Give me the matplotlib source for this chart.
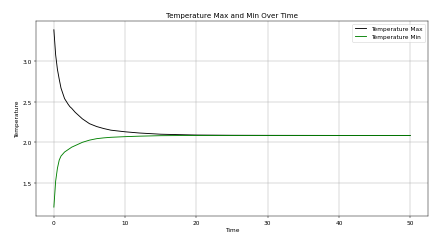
import matplotlib
matplotlib.use("Agg")
import matplotlib.pyplot as plt

time = [0, 0.25, 0.5, 0.75, 1, 1.5, 2, 2.25, 2.5, 3, 4, 5, 6, 7, 8, 10, 12, 15, 20, 25, 30, 40, 50]
temp_max = [3.39, 3.08, 2.90, 2.78, 2.67, 2.54, 2.47, 2.44, 2.42, 2.37, 2.29, 2.23, 2.195, 2.17, 2.15,
            2.13, 2.115, 2.10, 2.09, 2.087, 2.086, 2.085, 2.085]
temp_min = [1.20, 1.52, 1.68, 1.78, 1.83, 1.88, 1.91, 1.925, 1.94, 1.96, 2.00, 2.027, 2.045, 2.055, 2.062,
            2.07, 2.076, 2.082, 2.085, 2.085, 2.085, 2.085, 2.085]

W = 10.5
fig = plt.figure(figsize=(W, W * 246 / 445), dpi=445 / W)
ax = fig.add_subplot(111)
fig.subplots_adjust(left=0.081, right=0.962, bottom=0.118, top=0.911)
ax.plot(time, temp_max, color="black", label="Temperature Max")
ax.plot(time, temp_min, color="green", label="Temperature Min")
ax.set_title("Temperature Max and Min Over Time")
ax.set_xlabel("Time")
ax.set_ylabel("Temperature")
ax.set_yticks([1.5, 2.0, 2.5, 3.0])
ax.grid(True)
ax.legend(loc="upper right")
fig.savefig("out.png", dpi=445 / W)
